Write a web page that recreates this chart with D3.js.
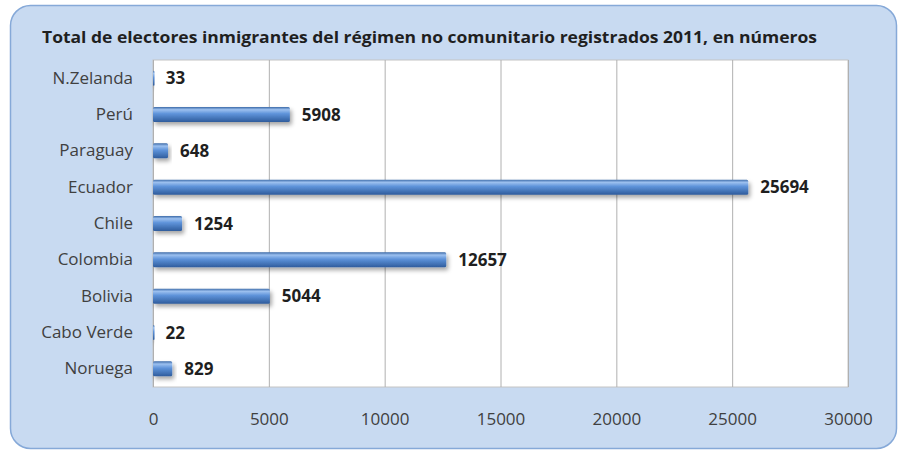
<!DOCTYPE html>
<html>
<head>
<meta charset="utf-8">
<script src="https://cdn.jsdelivr.net/npm/d3@7"></script>
<style>
  body { margin: 0; background: #fff; }
  text { font-family: "Open Sans", "DejaVu Sans", sans-serif; }
</style>
</head>
<body>
<script>
// data, top to bottom as in the picture
var countries = ["N.Zelanda", "Perú", "Paraguay", "Ecuador", "Chile", "Colombia", "Bolivia", "Cabo Verde", "Noruega"];
var electores = [33, 5908, 648, 25694, 1254, 12657, 5044, 22, 829];
var ticks = [0, 5000, 10000, 15000, 20000, 25000, 30000];
var title = "Total de electores inmigrantes del régimen no comunitario registrados 2011, en números";

var W = 904, H = 454;
var plot = {left: 153, right: 848, top: 60, bottom: 387};

var svg = d3.select("body").append("svg")
    .attr("width", W)
    .attr("height", H);

var defs = svg.append("defs");
var grad = defs.append("linearGradient")
    .attr("id", "barGrad")
    .attr("x1", 0).attr("y1", 0).attr("x2", 0).attr("y2", 1);
grad.append("stop").attr("offset", "0%").attr("stop-color", "#3c6aa8");
grad.append("stop").attr("offset", "18%").attr("stop-color", "#9cc0ef");
grad.append("stop").attr("offset", "45%").attr("stop-color", "#5e93da");
grad.append("stop").attr("offset", "100%").attr("stop-color", "#2f5c9c");

var shadow = defs.append("filter").attr("id", "shadow")
    .attr("x", "-10%").attr("y", "-40%").attr("width", "130%").attr("height", "200%");
shadow.append("feDropShadow")
    .attr("dx", 2).attr("dy", 3).attr("stdDeviation", 2)
    .attr("flood-color", "#000").attr("flood-opacity", 0.35);

// outer rounded panel
svg.append("rect")
    .attr("x", 10.5).attr("y", 5.5)
    .attr("width", 886).attr("height", 443)
    .attr("rx", 20)
    .attr("fill", "#c8daf1")
    .attr("stroke", "#86a9d8")
    .attr("stroke-width", 1.5);

svg.append("text")
    .attr("x", 42).attr("y", 43)
    .attr("font-size", 16.5)
    .attr("font-weight", "bold")
    .attr("fill", "#1f1f1f")
    .attr("textLength", 775)
    .attr("lengthAdjust", "spacingAndGlyphs")
    .text(title);

var x = d3.scaleLinear().domain([0, 30000]).range([plot.left, plot.right]);
var y = d3.scaleBand().domain(countries).range([plot.top, plot.bottom]);

// plot background
svg.append("rect")
    .attr("x", plot.left).attr("y", plot.top)
    .attr("width", plot.right - plot.left).attr("height", plot.bottom - plot.top)
    .attr("fill", "#fff")
    .attr("stroke", "#c4c4c4");

// gridlines
svg.append("g")
    .selectAll("line")
    .data(ticks)
    .enter().append("line")
    .attr("x1", d => x(d) + 0.5).attr("x2", d => x(d) + 0.5)
    .attr("y1", plot.top).attr("y2", plot.bottom)
    .attr("stroke", "#b0b0b0");

// x axis
var gx = svg.append("g")
    .attr("transform", `translate(0, ${plot.bottom})`)
    .call(d3.axisBottom(x).tickValues(ticks).tickSize(0).tickPadding(26).tickFormat(d3.format("d")));
gx.select(".domain").remove();
gx.selectAll("text").attr("font-size", 17).attr("fill", "#404040")
    .attr("font-family", "'Open Sans', sans-serif");

// y axis
var gy = svg.append("g")
    .attr("transform", `translate(${plot.left}, 0)`)
    .call(d3.axisLeft(y).tickSize(0).tickPadding(20));
gy.select(".domain").remove();
gy.selectAll("text").attr("font-size", 17).attr("fill", "#404040")
    .attr("font-family", "'Open Sans', sans-serif");

var barH = 15;
var bars = svg.append("g")
    .selectAll("g")
    .data(countries.map((c, i) => ({country: c, value: electores[i]})))
    .enter().append("g");

bars.append("rect")
    .attr("x", x(0))
    .attr("y", d => y(d.country) + y.bandwidth() / 2 - barH / 2)
    .attr("width", d => Math.max(x(d.value) - x(0), 1.5))
    .attr("height", barH)
    .attr("rx", 1.5)
    .attr("fill", "url(#barGrad)")
    .attr("filter", "url(#shadow)");

bars.append("text")
    .attr("x", d => x(d.value) + 12)
    .attr("y", d => y(d.country) + y.bandwidth() / 2)
    .attr("dy", "0.36em")
    .attr("font-size", 17)
    .attr("font-weight", "bold")
    .attr("fill", "#1f1f1f")
    .text(d => d.value);
</script>
</body>
</html>
